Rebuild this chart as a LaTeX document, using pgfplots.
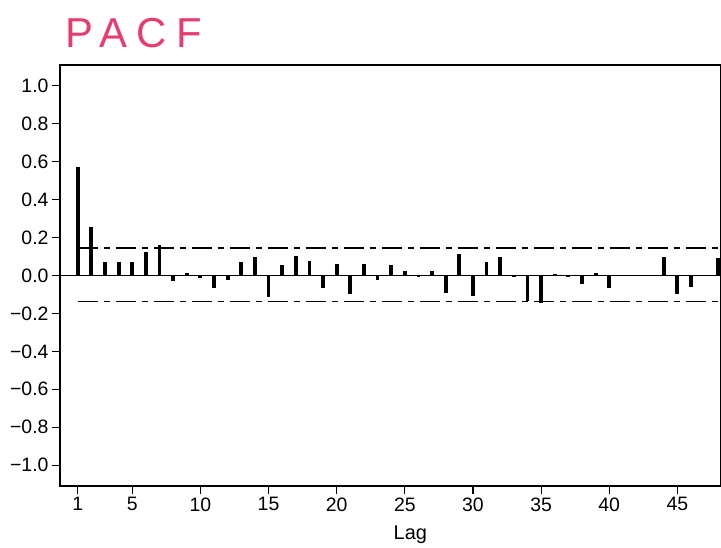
\documentclass[border=0pt]{standalone}
\usepackage{fontspec}
\setmainfont{Liberation Sans}
\usepackage{pgfplots}
\pgfplotsset{compat=1.18}
\definecolor{pacfpink}{RGB}{230,60,110}
\pgfplotstableread{
lag pacf
1 0.57
2 0.255
3 0.07
4 0.07
5 0.07
6 0.125
7 0.16
8 -0.03
9 0.015
10 -0.015
11 -0.065
12 -0.025
13 0.07
14 0.095
15 -0.115
16 0.055
17 0.105
18 0.075
19 -0.065
20 0.06
21 -0.10
22 0.06
23 -0.025
24 0.055
25 0.025
26 -0.01
27 0.025
28 -0.09
29 0.115
30 -0.11
31 0.07
32 0.10
33 -0.01
34 -0.135
35 -0.145
36 0.01
37 -0.01
38 -0.045
39 0.015
40 -0.065
41 0.0
42 0.0
43 0.005
44 0.10
45 -0.10
46 -0.06
47 -0.005
48 0.09
}\pacftable
\begin{document}
\begin{tikzpicture}
\useasboundingbox (0,0) rectangle (721bp,548bp);
\node[text=pacfpink, font=\fontsize{42}{46}\selectfont\addfontfeature{LetterSpace=22}, anchor=west] at (62bp,515bp) {PACF};
\begin{axis}[
  at={(60bp,62bp)}, anchor=south west,
  width=661bp, height=421bp, scale only axis,
  xmin=-0.3, xmax=48.2, ymin=-1.11, ymax=1.11,
  xtick={1,5,10,15,20,25,30,35,40,45},
  ytick={-1,-0.8,-0.6,-0.4,-0.2,0,0.2,0.4,0.6,0.8,1},
  yticklabels={−1.0,−0.8,−0.6,−0.4,−0.2,0.0,0.2,0.4,0.6,0.8,1.0},
  /pgf/number format/assume math mode=true,
  tick label style={font=\fontsize{19.5}{22}\selectfont},
  xtick pos=left, ytick pos=left,
  tick align=outside, major tick length=8bp,
  every tick/.style={black, line width=1.2bp},
  axis line style={line width=1.3bp},
  xlabel={Lag},
  xlabel style={font=\fontsize{20}{23}\selectfont, at={(axis description cs:0.53,0)}, anchor=north, yshift=-36bp},
  clip=false,
]
\addplot[black, line width=1.3bp] coordinates {(-0.3,0) (48.2,0)};
\addplot[black, line width=1.8bp, dash pattern=on 20bp off 6bp on 6bp off 6bp] coordinates {(1,0.145) (48.2,0.145)};
\addplot[black, line width=1.8bp, dash pattern=on 20bp off 6bp on 6bp off 6bp] coordinates {(1,-0.137) (48.2,-0.137)};
\addplot[ycomb, black, line width=3.8bp, no marks] table[x=lag, y=pacf] {\pacftable};
\end{axis}
\end{tikzpicture}
\end{document}
